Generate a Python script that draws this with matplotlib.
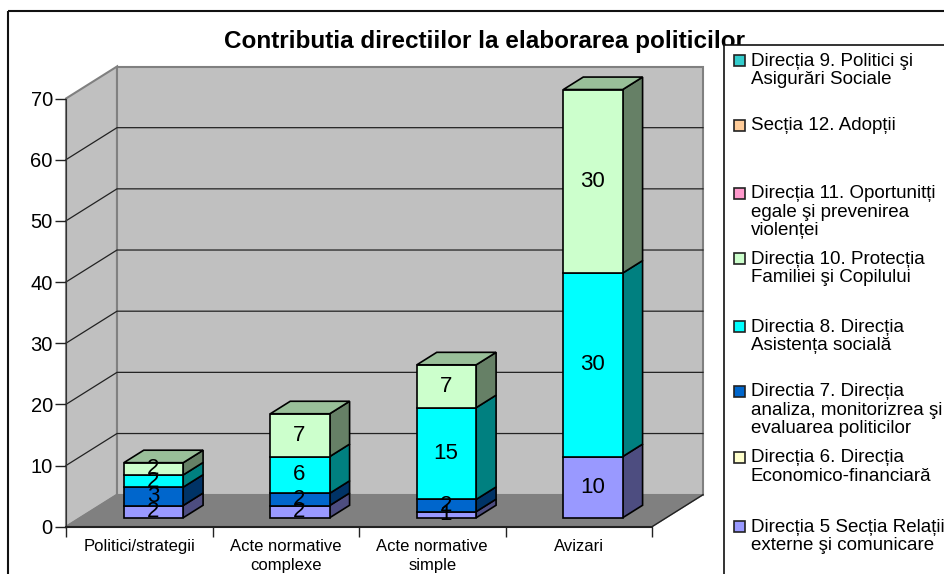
import numpy as np
import matplotlib
matplotlib.use("Agg")
import matplotlib.pyplot as plt
from matplotlib.patches import Polygon, Rectangle

plt.rcParams['font.family'] = ['Liberation Sans', 'DejaVu Sans']

W, H = 945, 574

categories = ["Politici/strategii", "Acte normative\ncomplexe", "Acte normative\nsimple", "Avizari"]
yticks = [0, 10, 20, 30, 40, 50, 60, 70]

# stacking order, bottom to top
dir5 = [2, 2, 1, 10]
dir6 = [0, 0, 0, 0]
dir7 = [3, 2, 2, 0]
dir8 = [2, 6, 15, 30]
dir10 = [2, 7, 7, 30]
dir11 = [0, 0, 0, 0]
sec12 = [0, 0, 0, 0]
dir9 = [0, 0, 0, 0]

series = [dir5, dir6, dir7, dir8, dir10, dir11, sec12, dir9]
colors = ["#9999FF", "#FFFFCC", "#0066CC", "#00FFFF", "#CCFFCC", "#FF99CC", "#FFCC99", "#33CCCC"]

legend_names = [
    "Direcția 9. Politici şi\nAsigurări Sociale",
    "Secția 12. Adopții",
    "Direcția 11. Oportunitți\negale şi prevenirea\nviolenței",
    "Direcția 10. Protecția\nFamiliei şi Copilului",
    "Directia 8. Direcția\nAsistența socială",
    "Directia 7. Direcția\nanaliza, monitorizrea şi\nevaluarea politicilor",
    "Direcția 6. Direcția\nEconomico-financiară",
    "Direcția 5 Secția Relații\nexterne şi comunicare",
]
legend_colors = ["#33CCCC", "#FFCC99", "#FF99CC", "#CCFFCC", "#00FFFF", "#0066CC", "#FFFFCC", "#9999FF"]
legend_top = [60, 125, 193, 258, 326, 391, 457, 526]

fig = plt.figure(figsize=(W / 100, H / 100), dpi=100, facecolor="white")

# front plane of the fake 3d box
left, right, top, bottom = 66, 652, 98.5, 526.7
ax = fig.add_axes([left / W, 1 - bottom / H, (right - left) / W, (bottom - top) / H])
ax.set_xlim(0, 4)
ax.set_ylim(0, 70)
ax.patch.set_visible(False)

# depth vector in data units
ddx = 51 / ((right - left) / 4)
ddy = 32 / ((bottom - top) / 70)
grid_c = "#222222"
wall_c = "#808080"


def poly(pts, fc, ec, lw=1.0, z=1):
    ax.add_patch(Polygon(pts, closed=True, fc=fc, ec=ec, lw=lw, zorder=z, clip_on=False))


# walls and floor
poly([(0, 0), (ddx, ddy), (ddx, 70 + ddy), (0, 70)], "#C0C0C0", wall_c, 1.5)
poly([(ddx, ddy), (4 + ddx, ddy), (4 + ddx, 70 + ddy), (ddx, 70 + ddy)], "#C0C0C0", wall_c, 1.5)
poly([(0, 0), (4, 0), (4 + ddx, ddy), (ddx, ddy)], "#808080", "#808080", 1.0)
ax.plot([4, 4 + ddx], [0, ddy], color="#222222", lw=1, clip_on=False, zorder=2)

for v in yticks[1:-1]:
    ax.plot([0, ddx, 4 + ddx], [v, v + ddy, v + ddy], color=grid_c, lw=0.9, clip_on=False, zorder=2)

# bars
x_pos = np.arange(4) + 0.5
bar_w = 0.405
d0, d1 = 0.28, 0.67
x0 = x_pos + d0 * ddx
base = d0 * ddy
dep_x = (d1 - d0) * ddx
dep_y = (d1 - d0) * ddy


def shade(c, f):
    rgb = np.array(matplotlib.colors.to_rgb(c))
    return tuple(rgb * f)


cum = np.zeros(4)
for vals, c in zip(series, colors):
    vals = np.array(vals, dtype=float)
    for i in range(4):
        if vals[i] == 0:
            continue
        b = cum[i] + base
        t = b + vals[i]
        ax.bar(x0[i], vals[i], bar_w, bottom=b, color=c, edgecolor="black", lw=1.2,
               zorder=5, clip_on=False)
        xr = x0[i] + bar_w / 2
        poly([(xr, b), (xr + dep_x, b + dep_y), (xr + dep_x, t + dep_y), (xr, t)],
             shade(c, 0.5), "black", 1.2, 4)
        ax.text(x0[i] - 0.005, b + vals[i] / 2, str(int(vals[i])), ha="center", va="center",
                fontsize=16, color="black", zorder=7, clip_on=False)
    cum += vals

# bar tops take the colour of the highest segment
for i in range(4):
    t = cum[i] + base
    xl = x0[i] - bar_w / 2
    xr = x0[i] + bar_w / 2
    poly([(xl, t), (xr, t), (xr + dep_x, t + dep_y), (xl + dep_x, t + dep_y)],
         shade("#CCFFCC", 0.75), "black", 1.2, 6)

# axes furniture
for s in ("top", "right"):
    ax.spines[s].set_visible(False)
ax.spines["left"].set_color("#333333")
ax.spines["bottom"].set_color("#222222")
ax.spines["bottom"].set_linewidth(1.5)
for s in ("left", "bottom"):
    ax.spines[s].set_zorder(3)
ax.set_yticks(yticks)
ax.tick_params(axis="y", length=8, width=1, labelsize=14.5, pad=1.5, color="#222222")
ax.set_xticks(range(5), labels=[])
ax.tick_params(axis="x", which="major", length=7, width=1, color="#222222")
ax.set_xticks(x_pos, labels=categories, minor=True)
ax.tick_params(axis="x", which="minor", length=0, labelsize=12, pad=9)
for lab in ax.get_xticklabels(minor=True):
    lab.set_linespacing(1.3)

# overlay in pixel coordinates for frame, title and legend
ov = fig.add_axes([0, 0, 1, 1], zorder=3)
ov.set_xlim(0, W)
ov.set_ylim(H, 0)
ov.axis("off")

ov.add_patch(Rectangle((8, 10.5), W + 20, H + 20, fc="none", ec="#111111", lw=1.5, zorder=0))
ov.text(485, 41.5, "Contributia directiilor la elaborarea politicilor", ha="center", va="center",
        fontsize=17.5, fontweight="bold", color="black", zorder=1)
ov.add_patch(Rectangle((723.5, 45.3), W, H, fc="white", ec="#111111", lw=1.2, zorder=2))

for name, c, yt in zip(legend_names, legend_colors, legend_top):
    ov.add_patch(Rectangle((734, yt - 5), 11, 11, fc=c, ec="#222222", lw=1.2, zorder=3))
    ov.text(751, yt - 7.5, name, ha="left", va="top", fontsize=13.5, linespacing=1.1,
            color="black", zorder=3)

fig.savefig("out.png", dpi=100)
